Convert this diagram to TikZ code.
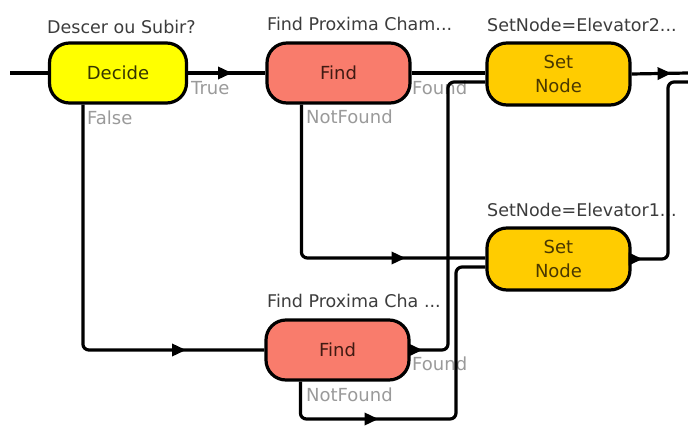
\documentclass[tikz,border=0pt]{standalone}
\usepackage{fontspec}
\setmainfont{DejaVu Sans}
\usetikzlibrary{arrows.meta,decorations.markings}

\definecolor{decidefill}{HTML}{FFFF00}
\definecolor{findfill}{HTML}{F97C6C}
\definecolor{setfill}{HTML}{FFCC00}
\definecolor{titletext}{HTML}{3C3C3C}
\definecolor{porttext}{HTML}{9A9A9A}
\definecolor{decidetext}{HTML}{353500}
\definecolor{findtext}{HTML}{401A12}
\definecolor{settext}{HTML}{4A3800}

\begin{document}
\begin{tikzpicture}[x=1pt,y=-1pt,
  block/.style={draw=black, line width=3.2pt, rounded corners=20pt,
    minimum width=143pt, minimum height=60pt, inner sep=0pt, align=center,
    font=\fontsize{18}{24}\selectfont},
  decideblock/.style={block, fill=decidefill, text=decidetext, minimum width=137pt},
  findblock/.style={block, fill=findfill, text=findtext},
  setblock/.style={block, fill=setfill, text=settext, minimum height=62pt},
  title/.style={anchor=west, inner sep=0pt, text=titletext,
    font=\fontsize{17.5}{20}\selectfont},
  port/.style={anchor=west, inner sep=0pt, text=porttext,
    font=\fontsize{18}{20}\selectfont},
  wire/.style={draw=black, line width=3.2pt, rounded corners=6pt},
  tipat/.style={postaction={decorate}, decoration={markings,
    mark=at position #1 with {\arrow{Triangle[length=14pt,width=12pt]}}}}
]
\useasboundingbox (0,0) rectangle (688,434);

% activity blocks
\node[decideblock] (dec)   at (118,73)   {Decide};
\node[findblock]   (find1) at (338.5,73) {Find};
\node[setblock]    (set2)  at (558.5,74) {Set\\Node};
\node[setblock]    (set1)  at (558.5,259){Set\\Node};
\node[findblock]   (find2) at (337.5,350){Find};

% block captions
\node[title] (tdec)   at (47,27)   {Descer ou Subir?};
\node[title] (tfind1) at (267,24)  {Find Proxima Cham...};
\node[title] (tset2)  at (487,25)  {SetNode=Elevator2...};
\node[title] (tset1)  at (487,210) {SetNode=Elevator1...};
\node[title] (tfind2) at (267,301) {Find Proxima Cha ...};

% outcome labels
\node[port] (ltrue)   at (191,88)  {True};
\node[port] (lfalse)  at (87,118)  {False};
\node[port] (lfound1) at (412,88)  {Found};
\node[port] (lnf1)    at (306,117) {NotFound};
\node[port] (lfound2) at (412,364) {Found};
\node[port] (lnf2)    at (306,395) {NotFound};

% routing points
\coordinate (entry) at (10,73);
\coordinate (busA)  at (448,82);
\coordinate (busB)  at (456,419);
\coordinate (busC)  at (668,82);
\coordinate (exitA) at (688,73);
\coordinate (exitB) at (688,82);

% connectors
\draw[wire] (entry) -- (dec.west);
\draw[wire, tipat=44pt] (dec.east) -- (find1.west);
\draw[wire, tipat=346pt] ([xshift=35pt]dec.south west) |- (find2.west);
\draw[wire] (find1.east) -- (find1.east -| set2.west);
\draw[wire, tipat=255pt] ([xshift=36pt]find1.south west) |- ([yshift=1pt]set1.west);
\draw[wire, tipat=12pt] (find2.east) -| (busA) -- (busA -| set2.west);
\draw[wire, tipat=113pt] ([xshift=36pt]find2.south west) |- (busB)
  |- ([yshift=-8pt]set1.west);
\draw[wire, tipat=40pt] (set2.east) -- (exitA);
\draw[wire, tipat=11pt] (set1.east) -| (busC) -- (exitB);
\end{tikzpicture}
\end{document}
